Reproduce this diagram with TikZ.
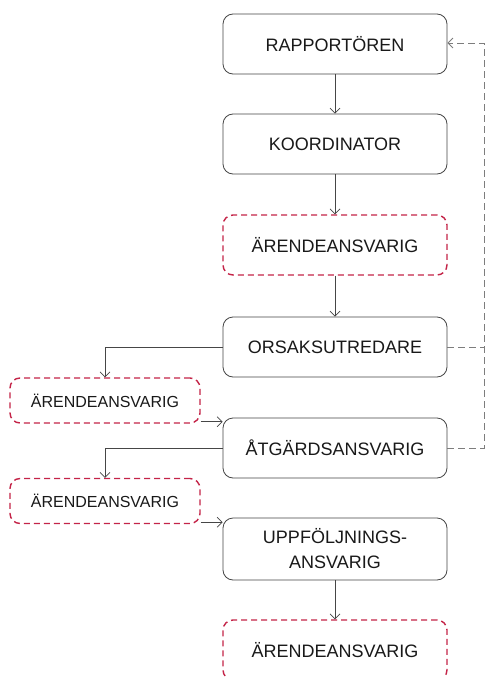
\documentclass[tikz,border=0pt]{standalone}
\usepackage{fontspec}
\setmainfont{Liberation Sans}
\usetikzlibrary{arrows.meta,positioning}
\definecolor{frame}{RGB}{70,70,70}
\definecolor{crimson}{RGB}{196,36,72}
\definecolor{ink}{RGB}{25,25,25}
\definecolor{wire}{RGB}{125,125,125}
\tikzset{
  >={Straight Barb[length=5pt,width=10pt]},
  box/.style={draw=frame,fill=white,rounded corners=10pt,line width=0.8pt,
    minimum width=224pt,minimum height=60pt,inner sep=0pt,align=center,
    text=ink,font=\fontsize{18}{25}\selectfont},
  case/.style={box,draw=crimson,dash pattern=on 6pt off 4pt,line width=1.4pt},
  small case/.style={case,minimum width=190pt,minimum height=45pt,
    font=\fontsize{16}{20}\selectfont},
  flow/.style={->,draw=frame,line width=0.7pt},
  back/.style={->,draw=wire,line width=0.8pt,dash pattern=on 7pt off 4pt},
}
\begin{document}
\begin{tikzpicture}[x=1pt,y=-1pt]
  \path[use as bounding box,fill=white] (0,0) rectangle (486,677);
  % main chain
  \node[box] (rap) at (335,44) {RAPPORTÖREN};
  \node[box] (koord) at (335,144) {KOORDINATOR};
  \node[case] (case1) at (335,245) {ÄRENDEANSVARIG};
  \node[box] (orsak) at (335,347) {ORSAKSUTREDARE};
  \node[box] (atg) at (335,448) {ÅTGÄRDSANSVARIG};
  \node[box,minimum height=62pt] (uppf) at (335,549) {UPPFÖLJNINGS-\\ANSVARIG};
  \node[case] (case4) at (335,650) {ÄRENDEANSVARIG};
  % side cases
  \node[small case] (case2) at (105,400.5) {ÄRENDEANSVARIG};
  \node[small case] (case3) at (105,501) {ÄRENDEANSVARIG};
  \coordinate (fbtop) at (484,43);

  \draw[flow] (rap) -- (koord);
  \draw[flow] (koord) -- (case1);
  \draw[flow] (case1) -- (orsak);
  \draw[flow] (uppf) -- (case4);
  \draw[flow] (orsak.west) -| (case2.north);
  \draw[flow] ([yshift=2pt]case2.south east) -- ([yshift=2pt]case2.south east -| atg.west);
  \draw[flow] (atg.west) -| (case3.north);
  \draw[flow] ([yshift=2pt]case3.south east) -- ([yshift=2pt]case3.south east -| uppf.west);
  % feedback
  \draw[back] (atg.east) -| (fbtop) -- (rap.east |- fbtop);
  \draw[back,-] (orsak.east) -- (orsak.east -| fbtop);
\end{tikzpicture}
\end{document}
